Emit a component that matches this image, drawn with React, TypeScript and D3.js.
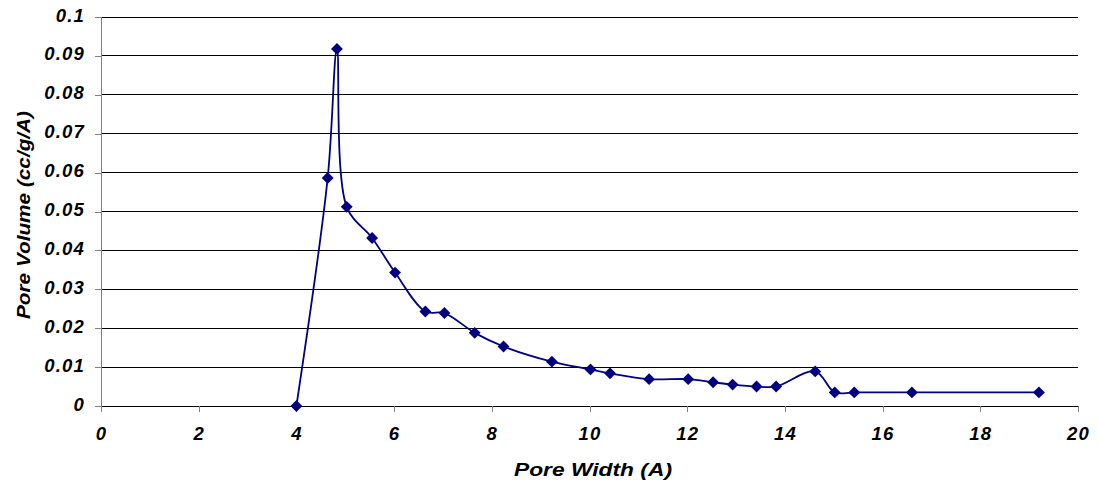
import React, { useEffect, useRef } from 'react';
import * as d3 from 'd3';

// pore size distribution
const poreWidth = [4.0, 4.64, 4.83, 5.03, 5.55, 6.02, 6.64, 7.03, 7.65, 8.24, 9.23, 10.02, 10.42, 11.22,
  12.02, 12.53, 12.93, 13.42, 13.82, 14.62, 15.02, 15.42, 16.6, 19.2];
const poreVolume = [0, 0.0586, 0.0918, 0.0512, 0.0432, 0.0343, 0.0243, 0.0239, 0.0188, 0.0153, 0.0114, 0.0094,
  0.0084, 0.0069, 0.0069, 0.0061, 0.0055, 0.005, 0.005, 0.0089, 0.0035, 0.0035, 0.0035, 0.0035];
const xTicks = [0, 2, 4, 6, 8, 10, 12, 14, 16, 18, 20];
const yTicks = [0, 0.01, 0.02, 0.03, 0.04, 0.05, 0.06, 0.07, 0.08, 0.09, 0.1];

const W = 1098, H = 487;
const font = '"Liberation Sans", Arial, sans-serif';

export default function App() {
  const ref = useRef<SVGSVGElement>(null);

  useEffect(() => {
    const svg = d3.select(ref.current);
    svg.selectAll('*').remove();

    const x = d3.scaleLinear().domain([0, 20]).range([101, 1078]);
    const y = d3.scaleLinear().domain([0, 0.1]).range([406, 17]);

    // gridlines
    svg.append('g').selectAll('line').data(yTicks.slice(1)).join('line')
      .attr('x1', x(0)).attr('x2', x(20))
      .attr('y1', d => y(d)).attr('y2', d => y(d))
      .attr('stroke', '#000').attr('stroke-width', 1).attr('shape-rendering', 'crispEdges');

    const styleText = (sel: any) => sel.attr('font-family', font).attr('font-size', 18.5)
      .attr('font-weight', 'bold').attr('font-style', 'italic').attr('fill', '#000')
      .attr('letter-spacing', 1.2);

    // y axis
    const yAxis = svg.append('g').attr('transform', `translate(${x(0)},0)`)
      .call(d3.axisLeft(y).tickValues(yTicks).tickSize(6).tickPadding(10)
        .tickFormat(d => d3.format('~g')(+d)));
    yAxis.select('.domain').attr('stroke', '#808080').attr('shape-rendering', 'crispEdges');
    yAxis.selectAll('.tick line').attr('stroke', '#808080').attr('shape-rendering', 'crispEdges');
    yAxis.selectAll('text').call(styleText).attr('dy', '0.22em');

    // x axis
    const xAxis = svg.append('g').attr('transform', `translate(0,${y(0)})`)
      .call(d3.axisBottom(x).tickValues(xTicks).tickSize(6).tickPadding(15));
    xAxis.select('.domain').attr('stroke', '#000').attr('shape-rendering', 'crispEdges');
    xAxis.selectAll('.tick line').attr('stroke', '#808080').attr('shape-rendering', 'crispEdges');
    xAxis.selectAll('text').call(styleText);

    // titles
    svg.append('text').attr('x', 593).attr('y', 476).attr('text-anchor', 'middle')
      .attr('font-family', font).attr('font-size', 18).attr('font-weight', 'bold').attr('font-style', 'italic')
      .attr('textLength', 158).attr('lengthAdjust', 'spacingAndGlyphs')
      .text('Pore Width (A)');
    svg.append('text').attr('transform', 'translate(30,215) rotate(-90)').attr('text-anchor', 'middle')
      .attr('font-family', font).attr('font-size', 18).attr('font-weight', 'bold').attr('font-style', 'italic')
      .attr('textLength', 208).attr('lengthAdjust', 'spacingAndGlyphs')
      .text('Pore Volume (cc/g/A)');

    const pts: [number, number][] = poreWidth.map((w, i) => [w, poreVolume[i]]);
    const line = d3.line<[number, number]>()
      .x(d => x(d[0])).y(d => y(d[1]))
      .curve(d3.curveCatmullRom.alpha(0.5));

    svg.append('path').attr('d', line(pts)).attr('fill', 'none')
      .attr('stroke', '#000080').attr('stroke-width', 1.8);

    const diamond = d3.symbol().type(d3.symbolDiamond2).size(90);
    svg.append('g').selectAll('path').data(pts).join('path')
      .attr('d', diamond())
      .attr('transform', d => `translate(${x(d[0])},${y(d[1])})`)
      .attr('fill', '#000080');
  }, []);

  return (
    <svg ref={ref} width={W} height={H}
      style={{ position: 'absolute', left: 0, top: 0, background: '#fff' }} />
  );
}
